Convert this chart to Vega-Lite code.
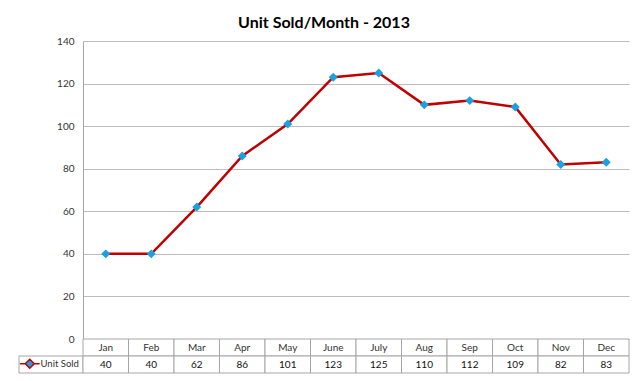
{
  "$schema": "https://vega.github.io/schema/vega-lite/v6.json",
  "padding": {"left": 18, "top": 15, "right": 10, "bottom": 5},
  "autosize": {"type": "pad"},
  "background": "white",
  "title": {"text": "Unit Sold/Month - 2013", "font": "Lato", "fontSize": 16, "fontWeight": "bold", "color": "#000000", "anchor": "middle", "offset": 5},
  "datasets": {
    "sales": [
      {"month": "Jan", "units": 40},
      {"month": "Feb", "units": 40},
      {"month": "Mar", "units": 62},
      {"month": "Apr", "units": 86},
      {"month": "May", "units": 101},
      {"month": "June", "units": 123},
      {"month": "July", "units": 125},
      {"month": "Aug", "units": 110},
      {"month": "Sep", "units": 112},
      {"month": "Oct", "units": 109},
      {"month": "Nov", "units": 82},
      {"month": "Dec", "units": 83}
    ],
    "legendrow": [{"series": "Unit Sold"}]
  },
  "columns": 2,
  "spacing": 0,
  "bounds": "flush",
  "resolve": {"scale": {"color": "independent"}, "legend": {"color": "independent"}},
  "concat": [
    {
      "width": 64,
      "height": 298,
      "data": {"name": "legendrow"},
      "mark": {"type": "point", "opacity": 0}
    },
    {
      "width": 546,
      "height": 298,
      "data": {"name": "sales"},
      "encoding": {
        "x": {"field": "month", "type": "ordinal", "sort": null, "axis": null},
        "y": {
          "field": "units", "type": "quantitative",
          "scale": {"domain": [0, 140], "nice": false},
          "axis": {
            "title": null, "values": [0, 20, 40, 60, 80, 100, 120, 140],
            "ticks": false, "labelPadding": 9, "labelFont": "Lato", "labelFontSize": 10, "labelColor": "#333333",
            "domainColor": "#a6a6a6", "gridColor": "#bdbdbd", "grid": true
          }
        }
      },
      "layer": [
        {"mark": {"type": "line", "color": "#c00000", "strokeWidth": 2.5}},
        {"mark": {"type": "point", "shape": "diamond", "filled": true, "color": "#1ba1e2", "size": 80, "opacity": 1}}
      ]
    },
    {
      "width": 64,
      "height": 34,
      "data": {"name": "legendrow"},
      "layer": [
        {
          "mark": {"type": "rect", "fill": "white", "stroke": "#a6a6a6", "strokeWidth": 1},
          "encoding": {
            "y": {"datum": "Value", "type": "nominal", "scale": {"domain": ["Header", "Value"], "paddingInner": 0, "paddingOuter": 0}, "axis": null}
          }
        },
        {
          "mark": {"type": "line", "strokeWidth": 2},
          "encoding": {
            "y": {"datum": "Value", "type": "nominal"},
            "color": {
              "field": "series", "type": "nominal",
              "scale": {"range": ["#c00000"]},
              "legend": {
                "title": null, "orient": "none", "legendX": 6, "legendY": 20, "padding": 0,
                "symbolType": "M-3.3,0H-1.5M1.5,0H3.3M0,-1.5L1.5,0L0,1.5L-1.5,0Z",
                "symbolSize": 36, "symbolStrokeWidth": 1.5,
                "labelFont": "Lato", "labelFontSize": 9.5, "labelColor": "#333333", "labelOffset": 6,
                "symbolFillColor": "#1ba1e2",
                "encode": {"symbols": {"update": {"fill": {"value": "#1ba1e2"}, "stroke": {"value": "#c00000"}}}}
              }
            }
          }
        }
      ]
    },
    {
      "width": 546,
      "height": 34,
      "data": {"name": "sales"},
      "encoding": {
        "x": {"field": "month", "type": "ordinal", "sort": null, "axis": null, "scale": {"paddingInner": 0, "paddingOuter": 0}}
      },
      "layer": [
        {
          "mark": {"type": "rect", "fill": "white", "stroke": "#a6a6a6", "strokeWidth": 1},
          "encoding": {"y": {"datum": "Header", "type": "nominal", "scale": {"domain": ["Header", "Value"], "paddingInner": 0, "paddingOuter": 0}, "axis": null}}
        },
        {
          "mark": {"type": "rect", "fill": "white", "stroke": "#a6a6a6", "strokeWidth": 1},
          "encoding": {"y": {"datum": "Value", "type": "nominal"}}
        },
        {
          "mark": {"type": "text", "font": "Lato", "fontSize": 10, "color": "#333333"},
          "encoding": {"y": {"datum": "Header", "type": "nominal"}, "text": {"field": "month"}}
        },
        {
          "mark": {"type": "text", "font": "Lato", "fontSize": 10, "color": "#111111"},
          "encoding": {"y": {"datum": "Value", "type": "nominal"}, "text": {"field": "units"}}
        }
      ]
    }
  ],
  "config": {"view": {"stroke": null}}
}
